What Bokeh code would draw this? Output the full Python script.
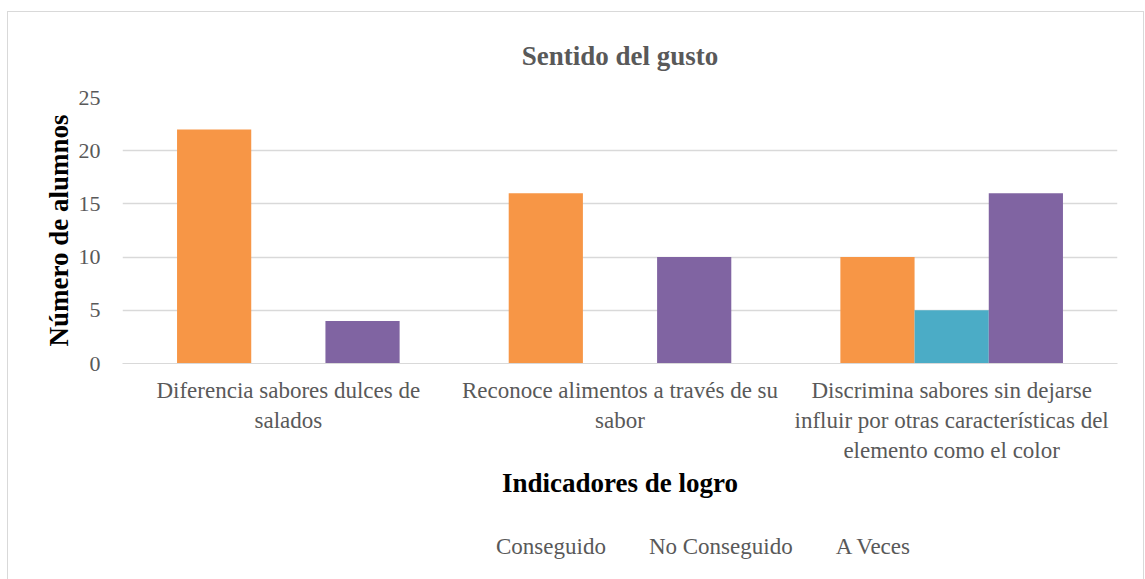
from bokeh.plotting import figure
from bokeh.layouts import column
from bokeh.models import Range1d, FixedTicker, Legend, LegendItem, Title, ColumnDataSource, LinearAxis
from bokeh.embed import file_html
from bokeh.resources import INLINE

categories = [
    "Diferencia sabores dulces de\nsalados",
    "Reconoce alimentos a través de su\nsabor",
    "Discrimina sabores sin dejarse\ninfluir por otras características del\nelemento como el color",
]
series_names = ["Conseguido", "No Conseguido", "A Veces"]
conseguido = [22, 16, 10]
no_conseguido = [0, 0, 5]
a_veces = [4, 10, 16]
colors = ["#F79646", "#4BACC6", "#8064A2"]
y_ticks = [0, 5, 10, 15, 20, 25]

FONT = "Liberation Serif"
GRAY = "#595959"

p = figure(frame_width=995, frame_height=266, output_backend="svg", toolbar_location=None,
           x_range=Range1d(0, 3), y_range=Range1d(0, 25),
           min_border_left=114, min_border_right=26, min_border_top=83, min_border_bottom=0)
p.outline_line_color = None
p.background_fill_color = "white"
p.border_fill_color = "white"

centers = [i + 0.5 for i in range(len(categories))]
bw = 0.2237
offsets = [-bw, 0.0, bw]
series = [conseguido, no_conseguido, a_veces]
for vals, off, col in zip(series, offsets, colors):
    src = ColumnDataSource(dict(x=[c + off for c in centers], top=vals))
    p.vbar(x="x", top="top", width=bw, source=src, fill_color=col, line_color=None)

# category labels: one axis row per text line
lines = [c.split("\n") for c in categories]
n_lines = max(len(l) for l in lines)
axes = [p.xaxis[0]]
for _ in range(n_lines - 1):
    ax = LinearAxis()
    p.add_layout(ax, "below")
    axes.append(ax)
for i, ax in enumerate(axes):
    ax.ticker = FixedTicker(ticks=centers)
    ax.major_label_overrides = {c: (l[i] if i < len(l) else "") for c, l in zip(centers, lines)}
    ax.major_tick_line_color = None
    ax.minor_tick_line_color = None
    ax.axis_line_color = "#D9D9D9" if i == 0 else None
    ax.major_label_text_font = FONT
    ax.major_label_text_font_size = "23px"
    ax.major_label_text_color = GRAY
    ax.major_label_standoff = 8 if i == 0 else -4
last = axes[-1]
last.axis_label = "Indicadores de logro"
last.axis_label_text_font = FONT
last.axis_label_text_font_size = "27px"
last.axis_label_text_font_style = "bold"
last.axis_label_text_color = "black"
last.axis_label_standoff = 2

p.yaxis.ticker = FixedTicker(ticks=y_ticks)
p.yaxis.major_tick_line_color = None
p.yaxis.minor_tick_line_color = None
p.yaxis.axis_line_color = None
p.yaxis.major_label_text_font = FONT
p.yaxis.major_label_text_font_size = "22px"
p.yaxis.major_label_text_color = GRAY
p.yaxis.major_label_standoff = 16
p.yaxis.axis_label = "Número de alumnos"
p.yaxis.axis_label_text_font = FONT
p.yaxis.axis_label_text_font_size = "27px"
p.yaxis.axis_label_text_font_style = "bold"
p.yaxis.axis_label_text_color = "black"
p.yaxis.axis_label_standoff = 2

p.xgrid.grid_line_color = None
p.ygrid.ticker = FixedTicker(ticks=y_ticks)
p.ygrid.grid_line_color = "#D9D9D9"
p.ygrid.grid_line_width = 1.5

title = Title(text="Sentido del gusto", align="center", text_font=FONT,
              text_font_size="27px", text_font_style="bold", text_color=GRAY, standoff=53)
p.add_layout(title, "above")

# legend strip below the chart
leg = figure(width=1135, height=80, output_backend="svg", toolbar_location=None,
             x_range=Range1d(0, 1), y_range=Range1d(0, 1),
             x_axis_location=None, y_axis_location=None,
             min_border_left=0, min_border_right=0, min_border_top=0, min_border_bottom=0)
leg.outline_line_color = None
leg.xgrid.grid_line_color = None
leg.ygrid.grid_line_color = None
leg.border_fill_color = "white"
swatches = []
for col in colors:
    swatches.append(leg.vbar(x=[], top=[], width=0.1, fill_color=col, line_color=None))
legend = Legend(items=[LegendItem(label=n, renderers=[r]) for n, r in zip(series_names, swatches)],
                orientation="horizontal", location=(357, 20),
                glyph_width=12, glyph_height=12, spacing=26, label_standoff=5,
                label_text_font=FONT, label_text_font_size="23px", label_text_color=GRAY,
                border_line_color=None, background_fill_alpha=0, margin=0, padding=0)
leg.add_layout(legend, "center")

layout = column(p, leg, spacing=0,
                styles={"margin-left": "7px", "margin-top": "11px", "border": "1px solid #D9D9D9",
                        "background-color": "white"})

open("out.html", "w").write(file_html(layout, INLINE))
